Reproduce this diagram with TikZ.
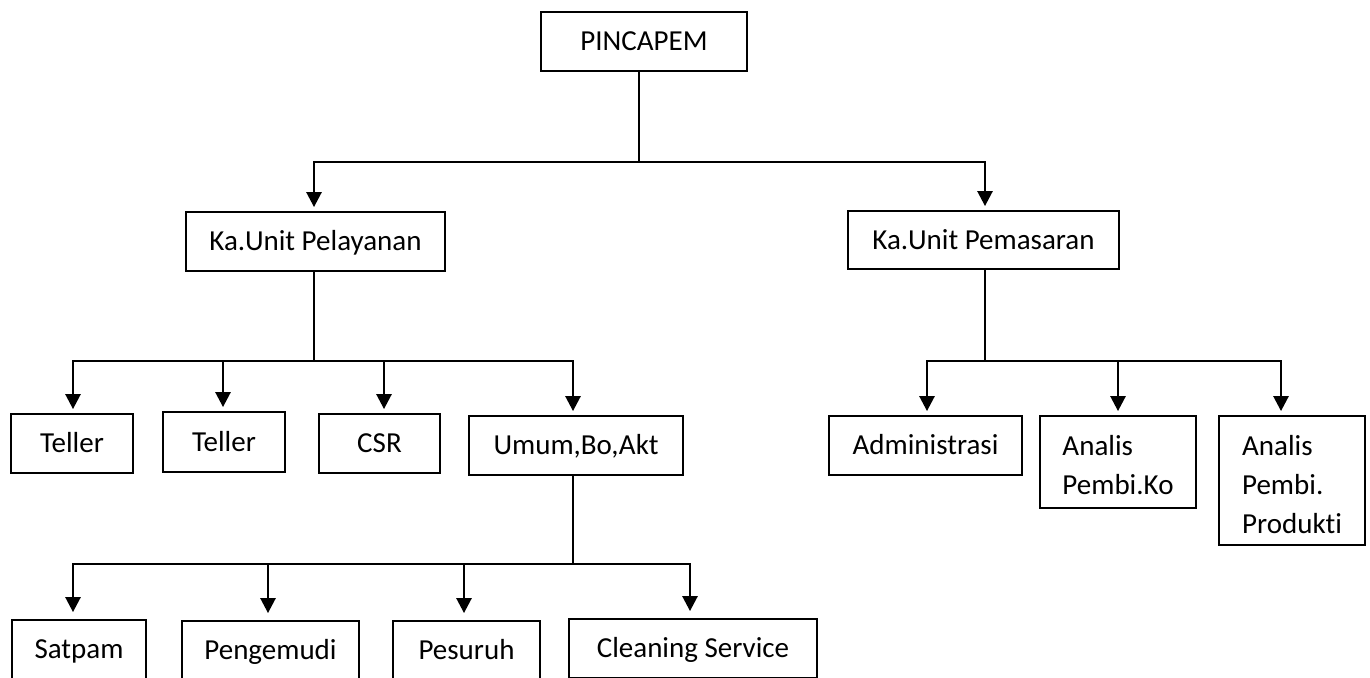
\documentclass[tikz,border=0pt]{standalone}
\usepackage{fontspec}
\setmainfont{Carlito}[Ligatures=NoCommon]
\usetikzlibrary{arrows.meta}
\begin{document}
\begin{tikzpicture}[x=1pt,y=1pt,
  box/.style={draw,line width=1.8pt,inner sep=0pt,align=left,
    text height=26pt,text depth=7.6pt,
    font=\fontsize{29}{39}\selectfont},
  conn/.style={line width=2.6pt},
  arr/.style={conn,-{Triangle[width=15pt,length=15pt]},shorten >=4pt},
  arrlow/.style={arr,shorten >=7pt}]
\useasboundingbox (0,0) rectangle (1370,-677);
% boxes
\node[box,minimum width=206pt,minimum height=59pt] (pin) at (644,-41.5) {PINCAPEM};
\node[box,minimum width=259pt,minimum height=59pt] (pel) at (315.5,-241.5) {Ka.Unit Pelayanan};
\node[box,minimum width=271pt,minimum height=58pt] (pem) at (983.5,-240) {Ka.Unit Pemasaran};
\node[box,minimum width=122pt,minimum height=59pt] (t1) at (72,-443.5) {Teller};
\node[box,minimum width=122pt,minimum height=60pt] (t2) at (224,-442) {Teller};
\node[box,minimum width=121pt,minimum height=59pt] (csr) at (379.5,-443.5) {CSR};
\node[box,minimum width=214pt,minimum height=59pt] (umum) at (576,-445.5) {Umum,Bo,Akt};
\node[box,minimum width=134pt,minimum height=59pt] (sat) at (79,-649.5) {Satpam};
\node[box,minimum width=177pt,minimum height=59pt] (peng) at (270.5,-650.5) {Pengemudi};
\node[box,minimum width=147pt,minimum height=59pt] (pes) at (466.5,-650.5) {Pesuruh};
\node[box,minimum width=248pt,minimum height=59pt] (clean) at (693,-648.5) {Cleaning Service};
\node[box,minimum width=193pt,minimum height=59pt] (adm) at (925.5,-445.5) {Administrasi};
\node[box,text height=65pt,text depth=1pt,minimum width=156pt,minimum height=92pt] (ko) at (1118,-462) {Analis\\Pembi.Ko};
\node[box,text height=105pt,text depth=0pt,minimum width=146pt,minimum height=129pt] (prod) at (1292,-480.5) {Analis\\Pembi.\\Produkti};
% junctions
\coordinate (b1) at (639,-162);
\coordinate (b2) at (314,-361);
\coordinate (b3) at (573,-564);
\coordinate (b4) at (985,-361);
% level 1
\draw[conn] ([xshift=-5pt]pin.south) -- (b1);
\draw[arr] (b1) -| ([xshift=-1.5pt]pel.north);
\draw[arr] (b1) -| ([xshift=1.5pt]pem.north);
% level 2 left
\draw[conn] ([xshift=-1.5pt]pel.south) -- (b2);
\draw[arr] (b2) -| ([xshift=1pt]t1.north);
\draw[arr] (b2) -| ([xshift=-1pt]t2.north);
\draw[arr] (b2) -| ([xshift=4.5pt]csr.north);
\draw[arr] (b2) -| ([xshift=-3pt]umum.north);
% level 3
\draw[conn] ([xshift=-3pt]umum.south) -- (b3);
\draw[arrlow] (b3) -| ([xshift=-6pt]sat.north);
\draw[arrlow] (b3) -| ([xshift=-2.5pt]peng.north);
\draw[arrlow] (b3) -| ([xshift=-2.5pt]pes.north);
\draw[arrlow] (b3) -| ([xshift=-3pt]clean.north);
% level 2 right
\draw[conn] ([xshift=1.5pt]pem.south) -- (b4);
\draw[arr] (b4) -| ([xshift=1.5pt]adm.north);
\draw[arr] (b4) -| (ko.north);
\draw[arr] (b4) -| ([xshift=-11pt]prod.north);
\end{tikzpicture}
\end{document}
